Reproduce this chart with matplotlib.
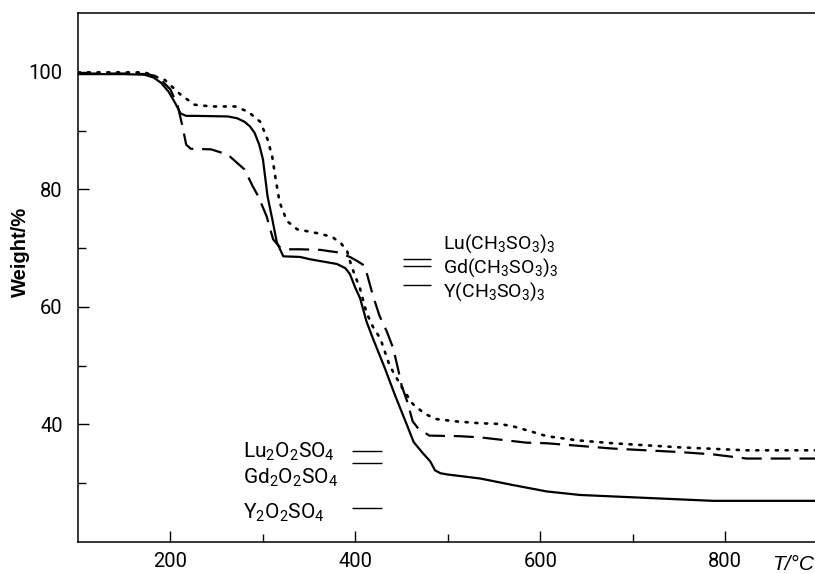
import matplotlib
matplotlib.use("Agg")
import matplotlib.pyplot as plt
from matplotlib.ticker import FixedLocator

plt.rcParams['font.family'] = ['Roboto', 'DejaVu Sans']
plt.rcParams['mathtext.fontset'] = 'custom'
plt.rcParams['mathtext.rm'] = 'Roboto'
plt.rcParams['mathtext.it'] = 'Roboto:italic'

# Y(CH3SO3)3 - solid
temp_y = [100, 150, 172, 182, 190, 198, 205, 211, 217, 226, 262, 272, 280, 286, 291, 296, 300, 305,
          310, 315, 322, 340, 351, 380, 389, 394, 400, 405, 412, 419, 432, 443, 456, 463, 473,
          481, 486, 492, 499, 535, 570, 607, 643, 715, 787, 897]
weight_y = [99.6, 99.6, 99.5, 99.0, 98.1, 96.6, 94.7, 92.9, 92.5, 92.5, 92.4, 92.1, 91.5, 90.7, 89.6, 87.6, 85.1, 78.8,
            75.0, 71.0, 68.6, 68.5, 68.1, 67.3, 66.6, 65.6, 63.2, 61.5, 57.5, 54.6, 49.5, 44.9, 39.8, 37.0, 35.1,
            33.7, 32.2, 31.7, 31.5, 30.8, 29.7, 28.6, 28.0, 27.5, 27.0, 27.0]

# Gd(CH3SO3)3 - dashed
temp_gd = [100, 150, 175, 186, 200, 208, 213, 217, 222, 244, 262, 280, 289, 295, 304, 311, 318,
           326, 340, 362, 380, 394, 402, 410, 419, 426, 434, 441, 446, 450, 456, 462, 468, 473, 480,
           513, 535, 585, 607, 678, 751, 787, 823, 897]
weight_gd = [99.7, 99.7, 99.6, 99.2, 97.0, 94.1, 90.7, 87.6, 86.9, 86.8, 85.9, 83.4, 80.5, 78.8, 75.4, 71.5, 70.2,
             69.8, 69.8, 69.7, 69.3, 68.5, 67.8, 67.0, 61.9, 58.5, 55.8, 52.9, 49.5, 46.6, 43.9, 40.5, 39.3, 38.8, 38.1,
             38.0, 37.8, 36.9, 36.8, 35.9, 35.3, 34.9, 34.2, 34.2]

# Lu(CH3SO3)3 - dotted
temp_lu = [100, 150, 172, 194, 211, 226, 244, 270, 284, 297, 305, 310, 314, 318, 326, 337,
           347, 360, 375, 385, 391, 396, 405, 412, 419, 427, 437, 451, 462, 475, 488, 510,
           535, 555, 570, 590, 607, 640, 678, 751, 823, 897]
weight_lu = [99.9, 99.9, 99.9, 98.6, 96.1, 94.4, 94.1, 94.1, 93.2, 91.5, 88.5, 85.6, 81.5, 77.8, 74.6, 73.2,
             72.9, 72.5, 71.9, 70.7, 69.5, 66.8, 63.1, 59.0, 56.6, 54.6, 50.0, 46.1, 43.5, 41.8, 40.9, 40.5,
             40.2, 40.1, 39.7, 38.8, 38.0, 37.3, 36.8, 36.1, 35.6, 35.6]

# theoretical weights
salt_labels = [r'Lu(CH$_3$SO$_3$)$_3$', r'Gd(CH$_3$SO$_3$)$_3$', r'Y(CH$_3$SO$_3$)$_3$']
salt_weights = [68.1, 66.9, 63.7]
oxy_labels = [r'Lu$_2$O$_2$SO$_4$', r'Gd$_2$O$_2$SO$_4$', r'Y$_2$O$_2$SO$_4$']
oxy_weights = [35.4, 33.4, 25.8]

fig = plt.figure(figsize=(8.15, 5.74), dpi=100)
ax = fig.add_axes([78 / 815, 1 - 542 / 574, 1 - 78 / 815, (542 - 13) / 574])

ax.plot(temp_y, weight_y, color='black', lw=1.6, solid_joinstyle='round')
ax.plot(temp_gd, weight_gd, color='black', lw=1.6, linestyle=(0, (9, 4)))
ax.plot(temp_lu, weight_lu, color='black', lw=1.9, linestyle=(0, (0.8, 2.9)), dash_capstyle='round')

ax.hlines(salt_weights, 451, 482, color='black', lw=1.0)
ax.hlines(oxy_weights, 396, 429, color='black', lw=1.0)

# labels next to the theoretical marks
for lab, yy in zip(salt_labels, [244, 268, 292]):
    fig.text(443 / 815, 1 - yy / 574, lab, fontsize=14, va='center', ha='left')
for lab, yy in zip(oxy_labels, [452, 478, 513]):
    fig.text(243 / 815, 1 - yy / 574, lab, fontsize=15, va='center', ha='left')

ax.set_xlim(100, 897)
ax.set_ylim(20, 110)
ax.xaxis.set_major_locator(FixedLocator([200, 400, 600, 800]))
ax.xaxis.set_minor_locator(FixedLocator([300, 500, 700]))
ax.yaxis.set_major_locator(FixedLocator([40, 60, 80, 100]))
ax.yaxis.set_minor_locator(FixedLocator([30, 50, 70, 90]))
ax.tick_params(which='major', direction='in', length=8, width=1.0, labelsize=14.5, pad=11)
ax.tick_params(axis='x', which='major', pad=7)
ax.tick_params(which='minor', direction='in', length=5.5, width=1.0)

ax.spines['right'].set_visible(False)
for s in ['left', 'bottom', 'top']:
    ax.spines[s].set_linewidth(1.1)

fig.text(11 / 815, 1 - 252 / 574, 'Weight/%', rotation=90, fontsize=14.5, fontweight='bold',
         family=['Liberation Sans'], va='center', ha='left')
fig.text(814 / 815, 1 - 564 / 574, 'T/°C', fontsize=15, style='italic',
         family=['Liberation Sans'], va='center', ha='right')

fig.savefig('out.png', dpi=100)
